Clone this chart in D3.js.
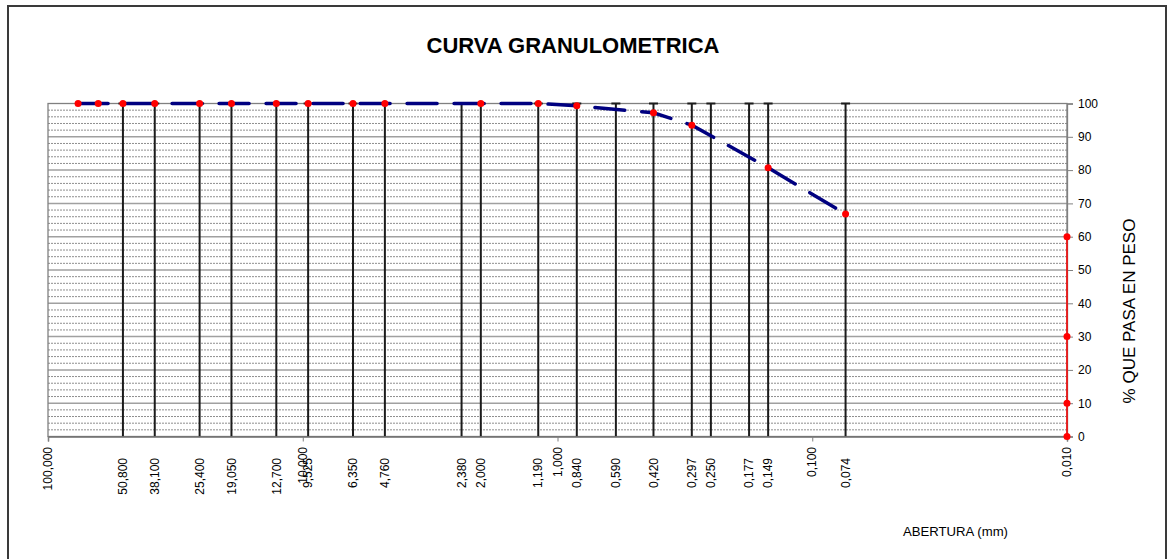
<!DOCTYPE html>
<html>
<head>
<meta charset="utf-8">
<script src="https://cdn.jsdelivr.net/npm/d3@7"></script>
<style>
  html, body { margin: 0; padding: 0; background: #fff; }
  svg { display: block; font-family: "Liberation Sans", Arial, sans-serif; }
</style>
</head>
<body>
<svg id="chart" width="1170" height="559"></svg>
<script>
// Sieve openings (mm) with a vertical reference line and label
const sieveSizes = [50.8, 38.1, 25.4, 19.05, 12.7, 9.525, 6.35, 4.76, 2.38, 2.0, 1.19,
                    0.84, 0.59, 0.42, 0.297, 0.25, 0.177, 0.149, 0.074];

// Grading curve: opening (mm) and percent passing
const curveSizes   = [76.2, 63.5, 50.8, 38.1, 25.4, 19.05, 12.7, 9.525, 6.35, 4.76,
                      2.0, 1.19, 0.84, 0.42, 0.297, 0.149, 0.074];
const curvePassing = [100, 100, 100, 100, 100, 100, 100, 100, 100, 100,
                      100, 100, 99.3, 97.2, 93.5, 80.7, 66.8];

// Helper series on the right edge (D10 / D30 / D60 markers)
const helperSize = 0.01;
const helperPassing = [0, 10, 30, 60];

// Axis ticks
const xDecades = [100, 10, 1, 0.1, 0.01];
const yTicks = [0, 10, 20, 30, 40, 50, 60, 70, 80, 90, 100];

const fmt = v => v.toFixed(3).replace(".", ",");

const svg = d3.select("#chart");
const plotL = 48, plotR = 1067, plotT = 103.5, plotB = 436.5;

const x = d3.scaleLog().domain([100, 0.01]).range([plotL, plotR]);
const y = d3.scaleLinear().domain([0, 100]).range([plotB, plotT]);

// Outer frame
svg.append("rect")
  .attr("x", 8).attr("y", 6).attr("width", 1158).attr("height", 570)
  .attr("fill", "#fff").attr("stroke", "#3a3a3a").attr("stroke-width", 2);

// Title
svg.append("text")
  .attr("x", 573).attr("y", 52.5)
  .attr("text-anchor", "middle")
  .attr("font-size", 22).attr("font-weight", "bold")
  .attr("fill", "#000")
  .text("CURVA GRANULOMETRICA");

// Horizontal gridlines: minor every 2 %, major every 10 %
const minor = d3.range(2, 100, 2).filter(v => v % 10 !== 0);
svg.append("g").selectAll("line").data(minor).join("line")
  .attr("x1", plotL).attr("x2", plotR)
  .attr("y1", d => y(d)).attr("y2", d => y(d))
  .attr("stroke", "#8e8e8e").attr("stroke-width", 1)
  .attr("stroke-dasharray", "2,1");

svg.append("g").selectAll("line").data(yTicks.slice(1, -1)).join("line")
  .attr("x1", plotL).attr("x2", plotR)
  .attr("y1", d => y(d)).attr("y2", d => y(d))
  .attr("stroke", "#a0a0a0").attr("stroke-width", 1.5);

// Plot frame
svg.append("rect")
  .attr("x", plotL).attr("y", plotT)
  .attr("width", plotR - plotL).attr("height", plotB - plotT)
  .attr("fill", "none").attr("stroke", "#808080").attr("stroke-width", 1.3);

// Vertical sieve lines with caps on top
const vlines = svg.append("g");
vlines.selectAll("line.v").data(sieveSizes).join("line")
  .attr("class", "v")
  .attr("x1", d => x(d)).attr("x2", d => x(d))
  .attr("y1", y(100)).attr("y2", y(0))
  .attr("stroke", "#1c1c1c").attr("stroke-width", 2);
vlines.selectAll("line.cap").data(sieveSizes).join("line")
  .attr("class", "cap")
  .attr("x1", d => x(d) - 4.5).attr("x2", d => x(d) + 4.5)
  .attr("y1", y(100)).attr("y2", y(100))
  .attr("stroke", "#1c1c1c").attr("stroke-width", 2);

// Right-hand y axis
const yAxis = d3.axisRight(y).tickValues(yTicks).tickSize(6).tickPadding(5)
  .tickFormat(d3.format("d"));
const gy = svg.append("g").attr("transform", `translate(${plotR},0)`).call(yAxis);
gy.select(".domain").attr("stroke", "#808080").attr("stroke-width", 1.3);
gy.selectAll(".tick line").attr("stroke", "#808080");
gy.selectAll(".tick text").attr("font-size", 12).attr("fill", "#000")
  .attr("font-family", "Liberation Sans, Arial, sans-serif");

svg.append("text")
  .attr("transform", "translate(1134.5,311) rotate(-90)")
  .attr("text-anchor", "middle")
  .attr("font-size", 17).attr("fill", "#000")
  .text("% QUE PASA EN PESO");

// Bottom axis: decade ticks and labels
const xAxis = d3.axisBottom(x).tickValues(xDecades).tickSize(5).tickFormat(() => "");
const gx = svg.append("g").attr("transform", `translate(0,${plotB})`).call(xAxis);
gx.select(".domain").attr("stroke", "#707070").attr("stroke-width", 1.5);
gx.selectAll(".tick line").attr("stroke", "#808080");

svg.append("g").selectAll("text").data(xDecades).join("text")
  .attr("transform", d => `translate(${x(d)},447) rotate(-90)`)
  .attr("text-anchor", "end").attr("dy", "0.35em")
  .attr("font-size", 12).attr("fill", "#000")
  .text(fmt);

// Sieve labels
svg.append("g").selectAll("text").data(sieveSizes).join("text")
  .attr("transform", d => `translate(${x(d)},458) rotate(-90)`)
  .attr("text-anchor", "end").attr("dy", "0.35em")
  .attr("font-size", 12).attr("fill", "#000")
  .text(fmt);

svg.append("text")
  .attr("x", 903).attr("y", 536)
  .attr("font-size", 13).attr("fill", "#000")
  .attr("textLength", 105).attr("lengthAdjust", "spacingAndGlyphs")
  .text("ABERTURA (mm)");

// Helper series on the right edge
const helper = helperPassing.map(p => ({ s: helperSize, p }));
svg.append("path")
  .datum(helper)
  .attr("fill", "none").attr("stroke", "#ff0000").attr("stroke-width", 1.5)
  .attr("d", d3.line().x(d => x(d.s)).y(d => y(d.p)));
svg.append("g").selectAll("circle").data(helper).join("circle")
  .attr("cx", d => x(d.s)).attr("cy", d => y(d.p)).attr("r", 3.5)
  .attr("fill", "#ff0000");

// Grading curve
const curve = curveSizes.map((s, i) => ({ s, p: curvePassing[i] }));
svg.append("path")
  .datum(curve)
  .attr("fill", "none").attr("stroke", "#000080").attr("stroke-width", 3.5)
  .attr("stroke-linecap", "round")
  .attr("stroke-dasharray", "30,17")
  .attr("d", d3.line().x(d => x(d.s)).y(d => y(d.p)));
svg.append("g").selectAll("circle").data(curve).join("circle")
  .attr("cx", d => x(d.s)).attr("cy", d => y(d.p)).attr("r", 3.5)
  .attr("fill", "#ff0000");
</script>
</body>
</html>
